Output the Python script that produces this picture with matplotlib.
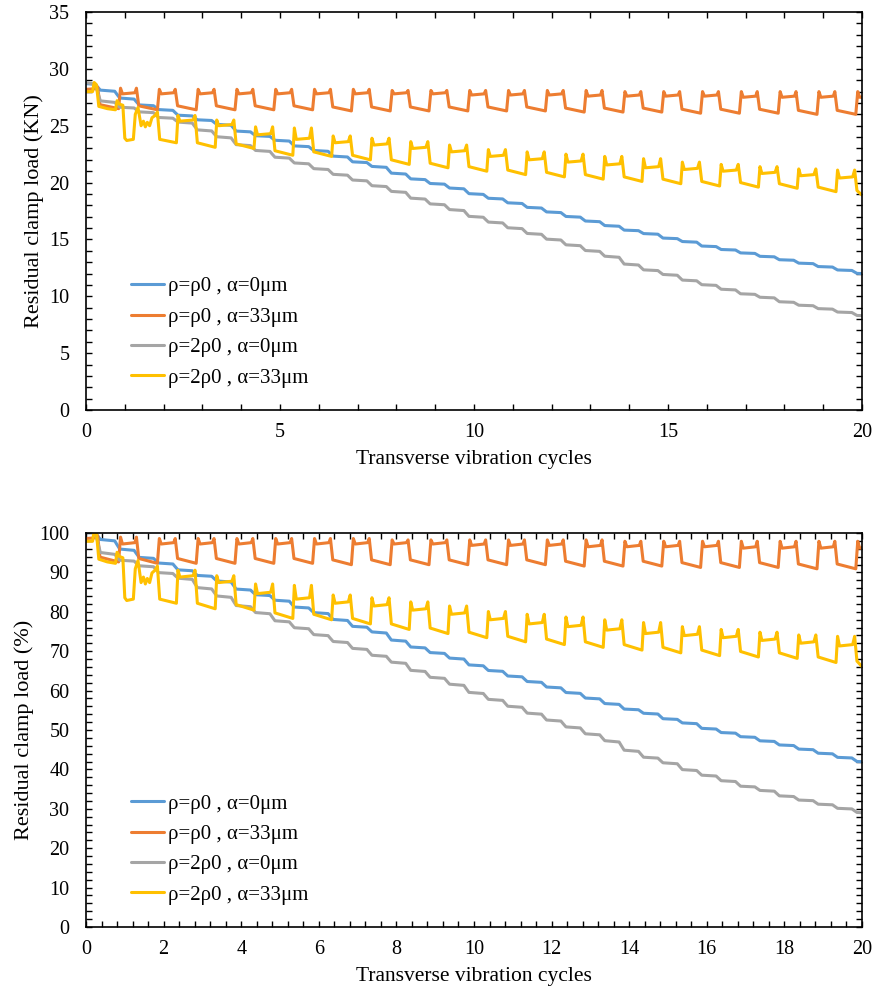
import matplotlib
matplotlib.use("Agg")
import matplotlib.pyplot as plt
import numpy as np
from matplotlib.ticker import MultipleLocator

plt.rcParams['font.family'] = ['Liberation Serif', 'DejaVu Serif']

# initial clamp load used to express the loads in %
P0 = 28.6

# blue / gray: level (KN) of each half-cycle stair segment, steps at n+0.3 and n+0.8
blue_levels = [28.7, 28.1, 27.4, 26.8, 26.4, 25.9, 25.5, 25.1, 24.5, 24.1,
               23.7, 23.2, 22.8, 22.3, 21.8, 21.4, 20.8, 20.3, 19.9, 19.5,
               19.0, 18.6, 18.2, 17.8, 17.4, 17.0, 16.6, 16.2, 15.8, 15.5,
               15.1, 14.8, 14.4, 14.1, 13.8, 13.5, 13.2, 12.9, 12.6, 12.3, 12.0]
gray_levels = [28.8, 27.1, 26.6, 26.2, 25.7, 25.3, 24.6, 24.0, 23.3, 22.8,
               22.2, 21.7, 21.2, 20.7, 20.2, 19.7, 19.2, 18.6, 18.1, 17.6,
               17.0, 16.5, 16.0, 15.5, 15.0, 14.5, 14.0, 13.5, 12.8, 12.3,
               11.9, 11.4, 11.0, 10.6, 10.2, 9.9, 9.5, 9.2, 8.9, 8.6, 8.3]

# orange: per cycle 0..20 (high phase k-0.15 .. k+0.33), low phase after it
orange_peak = [28.4, 28.3, 28.2, 28.2, 28.2, 28.2, 28.2, 28.2, 28.1, 28.1, 28.1,
               28.1, 28.1, 28.1, 28.0, 28.0, 28.0, 28.0, 28.0, 28.0, 28.0]
orange_plat = [28.2, 27.8, 27.8, 27.8, 27.8, 27.8, 27.8, 27.8, 27.8, 27.8, 27.7,
               27.7, 27.7, 27.6, 27.6, 27.6, 27.6, 27.5, 27.5, 27.5, 27.5]
orange_low = [26.5, 26.4, 26.4, 26.4, 26.4, 26.4, 26.3, 26.3, 26.3, 26.3,
              26.3, 26.3, 26.2, 26.2, 26.2, 26.1, 26.1, 26.1, 26.0, 26.0]

# yellow: irregular start, then per cycle 2..19 (high phase k+0.33 .. k+0.84)
yellow_early_x = [0, 0.17, 0.21, 0.27, 0.33, 0.55, 0.76, 0.8, 0.86, 0.95, 1.0, 1.05,
                  1.22, 1.27, 1.34, 1.42, 1.48, 1.53, 1.58, 1.64, 1.7, 1.78, 1.84, 1.9, 2.33]
yellow_early_y = [28.0, 28.0, 28.8, 28.6, 26.7, 26.5, 26.4, 27.2, 26.9, 26.8, 23.9, 23.7,
                  23.8, 26.0, 26.6, 25.0, 25.4, 24.9, 25.3, 25.0, 25.7, 25.9, 26.2, 23.8, 23.5]
yellow_peak = [25.9, 25.5, 24.9, 24.8, 24.1, 23.9, 23.6, 23.3, 22.9, 22.7,
               22.5, 22.3, 22.1, 21.8, 21.6, 21.4, 21.2, 21.1]
yellow_plat = [25.4, 25.0, 24.2, 23.8, 23.5, 23.3, 23.0, 22.7, 22.3, 22.0,
               21.8, 21.55, 21.3, 21.15, 21.0, 20.8, 20.6, 20.4]
yellow_low = [23.1, 23.0, 22.4, 22.3, 22.0, 21.6, 21.3, 21.0, 20.7, 20.5,
              20.3, 20.1, 19.9, 19.7, 19.6, 19.5, 19.2, 18.9]

labels = ['ρ=ρ0 , α=0μm', 'ρ=ρ0 , α=33μm', 'ρ=2ρ0 , α=0μm', 'ρ=2ρ0 , α=33μm']
colors = ['#5B9BD5', '#ED7D31', '#A5A5A5', '#FFC000']


def stair(levels):
    # soft steps, flats sag slightly towards the next level
    xs, ys = [0], [levels[0]]
    for i in range(len(levels) - 1):
        b = 0.3 + 0.5 * i
        d = levels[i] - levels[i + 1]
        xs += [b - 0.06, b, b + 0.07]
        ys += [levels[i] - 0.1 * d, levels[i] - 0.5 * d, levels[i + 1] + 0.05 * d]
    xs.append(20)
    ys.append(levels[-1])
    return np.array(xs), np.array(ys)


def orange_curve():
    xs = [0, 0.26, 0.3]
    ys = [orange_plat[0], orange_plat[0] + 0.05, orange_peak[0]]
    for k in range(len(orange_low)):
        xs += [k + 0.36, k + 0.84]
        ys += [orange_low[k] + 0.35, orange_low[k]]
        n = k + 1
        xs += [n - 0.11, n - 0.06, n + 0.26, n + 0.3]
        ys += [orange_peak[n], orange_plat[n], orange_plat[n] + 0.1, orange_peak[n]]
    xs.append(20)
    ys.append(orange_plat[-1])
    return np.array(xs), np.array(ys)


def yellow_curve():
    xs, ys = list(yellow_early_x), list(yellow_early_y)
    for i in range(len(yellow_plat)):
        k = i + 2
        xs += [k + 0.37, k + 0.42, k + 0.76, k + 0.81, k + 0.87]
        ys += [yellow_peak[i], yellow_plat[i], yellow_plat[i] + 0.1,
               yellow_peak[i], yellow_low[i] + 0.4]
        end = min(k + 1.33, 20)
        xs.append(end)
        ys.append(yellow_low[i])
    return np.array(xs), np.array(ys)


curves = [stair(blue_levels), orange_curve(), stair(gray_levels), yellow_curve()]

fig = plt.figure(figsize=(8.78, 9.98), dpi=100)
ax1 = fig.add_axes([86 / 878, 1 - 410 / 998, 776 / 878, 398 / 998])
ax2 = fig.add_axes([86 / 878, 1 - 927 / 998, 776 / 878, 394 / 998])

for ax, scale in [(ax1, 1.0), (ax2, 100.0 / P0)]:
    for (x, y), c, lab in zip(curves, colors, labels):
        ax.plot(x, y * scale, color=c, lw=2.2, label=lab,
                solid_joinstyle='round', solid_capstyle='round')
    ax.set_xlim(0, 20)
    ax.tick_params(which='both', direction='in', top=True, right=True,
                   length=4, width=1, labelsize=14.5)
    ax.tick_params(axis='x', pad=9)
    ax.tick_params(axis='y', pad=12)
    for s in ax.spines.values():
        s.set_linewidth(1.2)
    ax.set_xlabel('Transverse vibration cycles', fontsize=15.5, labelpad=6)
    ax.legend(loc='lower left', bbox_to_anchor=(0.045, 0.03), frameon=False,
              fontsize=15, borderpad=0, handlelength=1.55, handletextpad=0.2,
              labelspacing=0.52)

ax1.set_ylim(0, 35)
ax1.xaxis.set_major_locator(MultipleLocator(5))
ax1.xaxis.set_minor_locator(MultipleLocator(1))
ax1.yaxis.set_major_locator(MultipleLocator(5))
ax1.yaxis.set_minor_locator(MultipleLocator(1))
ax1.set_ylabel('Residual clamp load (KN)', fontsize=16, labelpad=4)

ax2.set_ylim(0, 100)
ax2.xaxis.set_major_locator(MultipleLocator(2))
ax2.xaxis.set_minor_locator(MultipleLocator(0.4))
ax2.yaxis.set_major_locator(MultipleLocator(10))
ax2.yaxis.set_minor_locator(MultipleLocator(2))
ax2.set_ylabel('Residual clamp load (%)', fontsize=16, labelpad=4)

fig.savefig('out.png', dpi=100)
